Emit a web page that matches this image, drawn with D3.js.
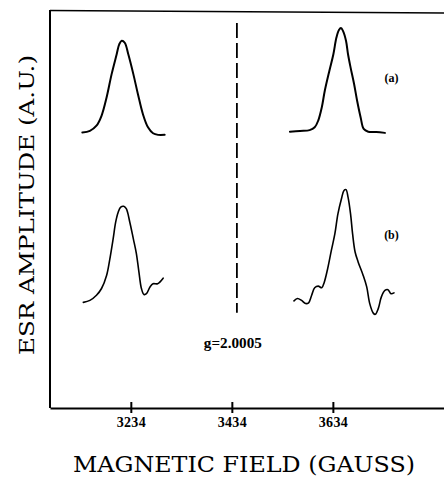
<!DOCTYPE html>
<html>
<head>
<meta charset="utf-8">
<script src="https://cdn.jsdelivr.net/npm/d3@7"></script>
<style>
  body { margin: 0; background: #fff; }
</style>
</head>
<body>
<script>
var svgWidth = 444;
var svgHeight = 477;

var margin = {
  top: 11,
  right: 0,
  bottom: 69,
  left: 50
};

var chartWidth = svgWidth - margin.left - margin.right;
var chartHeight = svgHeight - margin.top - margin.bottom;

// field axis (gauss)
var fieldDomain = [3074, 3854];
var tickValues = [3234, 3434, 3634];
var gMarkerField = 3444;
var gMarkerRange = [24, 97];
var gLabel = "g=2.0005";

// spectrum (a), low-field line
var aLowField = [3138, 3153, 3166, 3176, 3186, 3196, 3206, 3211, 3216, 3222, 3229, 3239, 3248, 3258, 3268, 3278, 3288, 3301];
var aLowAmp = [69.4, 69.8, 71.1, 73.6, 78.2, 84.1, 89.1, 91.6, 92.5, 92.0, 89.1, 84.1, 79.1, 74.0, 70.7, 69.2, 68.8, 68.8];

// spectrum (a), high-field line
var aHighField = [3549, 3569, 3588, 3598, 3605, 3612, 3618, 3627, 3635, 3641, 3646, 3650, 3654, 3660, 3664, 3669, 3676, 3682, 3689, 3695, 3704, 3720, 3737];
var aHighAmp = [69.6, 69.8, 70.0, 70.7, 72.4, 75.7, 79.9, 84.9, 89.1, 93.3, 95.2, 95.7, 95.0, 92.5, 89.1, 85.8, 81.6, 77.4, 73.2, 70.3, 69.6, 69.5, 69.3];

// spectrum (b), low-field line
var bLowField = [3140, 3153, 3166, 3176, 3186, 3192, 3199, 3204, 3209, 3214, 3220, 3225, 3232, 3239, 3245, 3250, 3255, 3260, 3265, 3272, 3278, 3287, 3298];
var bLowAmp = [26.6, 27.1, 28.4, 30.1, 33.4, 37.2, 42.6, 46.8, 49.3, 50.6, 50.8, 50.2, 46.8, 42.6, 38.9, 34.3, 30.1, 28.6, 28.8, 30.5, 31.3, 31.3, 32.7];

// spectrum (b), high-field line
var bHighField = [3557, 3564, 3572, 3580, 3586, 3592, 3598, 3605, 3612, 3617, 3623, 3631, 3638, 3644, 3651, 3656, 3660, 3664, 3669, 3673, 3678, 3684, 3694, 3701, 3707, 3714, 3718, 3724, 3730, 3737, 3743, 3749, 3755];
var bHighAmp = [27.0, 27.6, 27.1, 26.3, 26.5, 28.4, 30.3, 30.7, 30.3, 31.7, 34.7, 39.7, 43.9, 48.9, 52.7, 54.8, 55.0, 53.1, 48.9, 43.9, 39.3, 36.8, 33.4, 30.5, 26.3, 23.9, 23.6, 25.1, 28.0, 29.6, 29.8, 28.8, 29.0];

var spectrumLabels = ["(a)", "(b)"];
var labelField = 3750;
var labelAmp = [82.0, 42.5];

function zip(fields, amps) {
  return fields.map(function(f, i) { return { field: f, amp: amps[i] }; });
}

var curves = [
  { points: zip(aLowField, aLowAmp), width: 2 },
  { points: zip(aHighField, aHighAmp), width: 2 },
  { points: zip(bLowField, bLowAmp), width: 1.6 },
  { points: zip(bHighField, bHighAmp), width: 1.6 }
];

var svg = d3.select("body")
  .append("svg")
  .attr("width", svgWidth)
  .attr("height", svgHeight);

var chartGroup = svg.append("g")
  .attr("transform", `translate(${margin.left}, ${margin.top})`);

var xScale = d3.scaleLinear()
  .domain(fieldDomain)
  .range([0, chartWidth]);

var yScale = d3.scaleLinear()
  .domain([0, 100])
  .range([chartHeight, 0]);

// frame: left and top edges
chartGroup.append("line")
  .attr("x1", 0).attr("x2", 0)
  .attr("y1", -1).attr("y2", chartHeight)
  .attr("stroke", "black")
  .attr("stroke-width", 2);

chartGroup.append("line")
  .attr("x1", 0).attr("x2", chartWidth)
  .attr("y1", -0.5).attr("y2", 2)
  .attr("stroke", "black")
  .attr("stroke-width", 1.5);

// bottom field axis
var xAxis = d3.axisBottom(xScale)
  .tickValues(tickValues)
  .tickSizeOuter(0)
  .tickFormat(d3.format("d"));

var axisGroup = chartGroup.append("g")
  .attr("transform", `translate(0, ${chartHeight})`)
  .call(xAxis);

axisGroup.select(".domain")
  .attr("stroke", "black")
  .attr("stroke-width", 2);

axisGroup.selectAll(".tick line")
  .attr("y1", -6)
  .attr("y2", 5)
  .attr("stroke", "black")
  .attr("stroke-width", 2);

axisGroup.selectAll(".tick text")
  .attr("y", 19)
  .attr("dy", 0)
  .attr("fill", "black")
  .style("font-family", "'Liberation Serif', serif")
  .style("font-weight", "bold")
  .style("font-size", "14px")
  .style("letter-spacing", "0.3px");

// g-value marker
chartGroup.append("line")
  .attr("x1", xScale(gMarkerField)).attr("x2", xScale(gMarkerField))
  .attr("y1", yScale(gMarkerRange[1])).attr("y2", yScale(gMarkerRange[0]))
  .attr("stroke", "black")
  .attr("stroke-width", 1.8)
  .attr("stroke-dasharray", "15,5");

chartGroup.append("text")
  .attr("x", xScale(3434) + 1)
  .attr("y", yScale(15))
  .attr("text-anchor", "middle")
  .attr("textLength", 58)
  .attr("lengthAdjust", "spacingAndGlyphs")
  .style("font-family", "'Liberation Serif', serif")
  .style("font-weight", "bold")
  .style("font-size", "14px")
  .text(gLabel);

// spectra
var drawLine = d3.line()
  .x(d => xScale(d.field))
  .y(d => yScale(d.amp))
  .curve(d3.curveCatmullRom.alpha(0.5));

curves.forEach(function(c) {
  chartGroup.append("path")
    .attr("d", drawLine(c.points))
    .attr("stroke", "black")
    .attr("stroke-width", c.width)
    .attr("stroke-linejoin", "round")
    .attr("stroke-linecap", "round")
    .style("fill", "none");
});

chartGroup.selectAll(".spec-label")
  .data(spectrumLabels)
  .enter()
  .append("text")
  .attr("class", "spec-label")
  .attr("x", xScale(labelField))
  .attr("y", (d, i) => yScale(labelAmp[i]))
  .attr("text-anchor", "middle")
  .style("font-family", "'Liberation Serif', serif")
  .style("font-weight", "bold")
  .style("font-size", "12px")
  .text(d => d);

// axis titles
svg.append("text")
  .attr("x", 244)
  .attr("y", 472)
  .attr("text-anchor", "middle")
  .attr("textLength", 342)
  .attr("lengthAdjust", "spacingAndGlyphs")
  .style("font-family", "'DejaVu Serif', serif")
  .style("font-size", "23px")
  .text("MAGNETIC FIELD (GAUSS)");

svg.append("text")
  .attr("transform", "translate(34, 205) rotate(-90)")
  .attr("text-anchor", "middle")
  .attr("textLength", 300)
  .attr("lengthAdjust", "spacingAndGlyphs")
  .style("font-family", "'DejaVu Serif', serif")
  .style("font-size", "20px")
  .text("ESR AMPLITUDE (A.U.)");
</script>
</body>
</html>
